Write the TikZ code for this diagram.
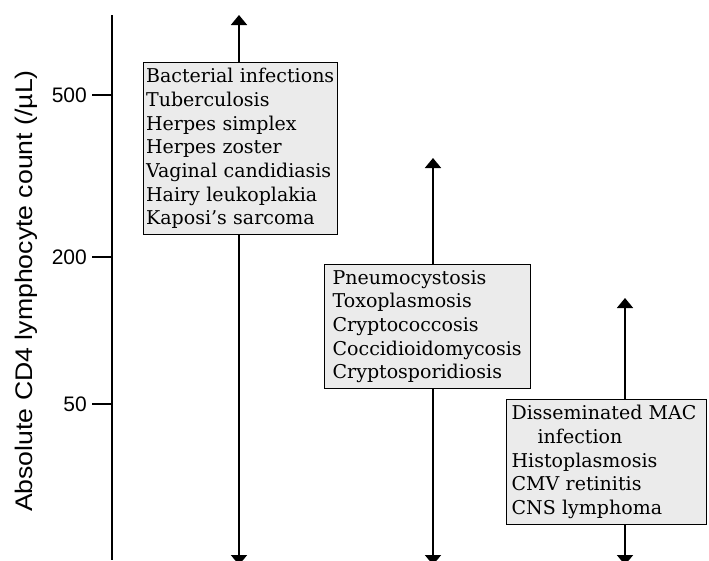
\documentclass[tikz,border=0pt]{standalone}
\usepackage{fontspec}
\setmainfont{DejaVu Serif}
\newfontfamily\boxfont{DejaVu Serif}
\newfontfamily\axfont{Liberation Sans}
\newcommand\nohyph{\hyphenpenalty=10000\relax\exhyphenpenalty=10000\relax}
\usetikzlibrary{arrows.meta}
\begin{document}
\begin{tikzpicture}[x=1pt,y=-1pt,
  box/.style={draw=black, line width=1.3pt, fill=black!8, anchor=north west,
    inner ysep=0pt, align=left,
    font=\boxfont\fontsize{19}{23.7}\selectfont\nohyph},
  shaft/.style={line width=1.8pt, -{Triangle[width=16pt,length=10pt]}},
  tickmark/.style={line width=1.5pt},
  ticklab/.style={anchor=east, inner sep=0pt, font=\axfont\fontsize{21}{24}\selectfont}]
\clip (0,0) rectangle (709,560);
\fill[white] (0,0) rectangle (709,560);

% axis
\coordinate (atop) at (112,15);
\coordinate (abot) at (112,560);
\draw[line width=1.8pt] (atop) -- (abot);
\foreach \y/\lab/\nm in {95/500/a, 257/200/b, 404/50/c}{
  \coordinate (tk\nm) at (112,\y);
  \coordinate (tl\nm) at (92,\y);
  \draw[tickmark] (tk\nm) -- (tl\nm);
  \node[ticklab] (lab\nm) at (87,\y) {\lab};
}
\node[rotate=90, anchor=base, inner sep=0pt, font=\axfont\fontsize{24}{28}\selectfont] (ylab) at (32,291)
  {\scalebox{1.11}[1]{Absolute CD4 lymphocyte count (/µL)}};

% boxes
\node[box, inner xsep=2.5pt, text width=189pt, minimum height=172pt] (b1) at (143,62)
  {Bacterial infections\\Tuberculosis\\Herpes simplex\\Herpes zoster\\Vaginal candidiasis\\Hairy leukoplakia\\Kaposi’s sarcoma};
\node[box, inner xsep=8pt, text width=190pt, minimum height=124pt] (b2) at (324,264)
  {Pneumocystosis\\Toxoplasmosis\\Cryptococcosis\\Coccidioidomycosis\\Cryptosporidiosis};
\node[box, inner xsep=5pt, text width=190pt, minimum height=125pt] (b3) at (506,399)
  {Disseminated MAC\\\hspace*{26pt}infection\\Histoplasmosis\\CMV retinitis\\CNS lymphoma};

% arrows
\coordinate (t1) at (239,15);  \coordinate (d1) at (239,565);
\coordinate (t2) at (433,158); \coordinate (d2) at (433,565);
\coordinate (t3) at (625,298); \coordinate (d3) at (625,565);
\draw[shaft] (b1.north -| t1) -- (t1);
\draw[shaft] (b1.south -| d1) -- (d1);
\draw[shaft] (b2.north -| t2) -- (t2);
\draw[shaft] (b2.south -| d2) -- (d2);
\draw[shaft] (b3.north -| t3) -- (t3);
\draw[shaft] (b3.south -| d3) -- (d3);
\end{tikzpicture}
\end{document}
